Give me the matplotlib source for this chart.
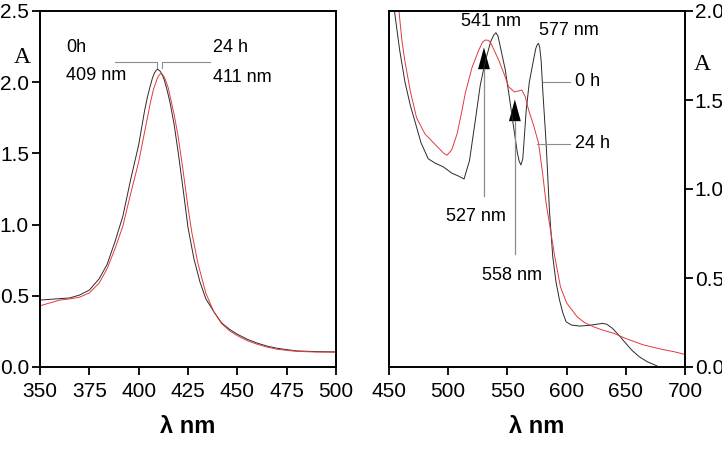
import numpy as np
import matplotlib
matplotlib.use('Agg')
import matplotlib.pyplot as plt

plt.rcParams['font.family'] = ['Liberation Sans', 'DejaVu Sans']

# Soret band (left panel), wavelength in nm and absorbance
wl_soret_0h = [350, 355, 360, 365, 370, 375, 380, 384, 388, 392, 396, 400, 403, 404.5,
               406, 407, 408, 409, 409.5, 410, 411, 412, 413, 414.5, 416, 418, 420,
               422.5, 425, 428, 431, 434, 438, 442, 446, 450, 455, 460, 465, 470, 475,
               480, 490, 500]
abs_soret_0h = [0.47, 0.475, 0.48, 0.485, 0.505, 0.54, 0.62, 0.72, 0.88, 1.06, 1.32,
                1.56, 1.80, 1.90, 1.98, 2.03, 2.065, 2.085, 2.09, 2.088, 2.075, 2.05,
                2.015, 1.94, 1.85, 1.70, 1.51, 1.25, 0.98, 0.76, 0.60, 0.48, 0.39, 0.31,
                0.265, 0.23, 0.195, 0.168, 0.147, 0.132, 0.122, 0.113, 0.108, 0.106]
wl_soret_24h = [350, 355, 360, 365, 370, 375, 380, 384, 388, 392, 396, 400, 403, 406,
                407.5, 408.5, 409.5, 410.5, 411.2, 412, 413, 414, 415, 418, 420, 422.5,
                425, 427, 430, 434, 438, 442, 446, 450, 455, 460, 465, 470, 475, 480,
                490, 500]
abs_soret_24h = [0.43, 0.45, 0.47, 0.478, 0.49, 0.52, 0.59, 0.69, 0.83, 0.99, 1.22,
                 1.44, 1.65, 1.86, 1.95, 1.99, 2.03, 2.052, 2.06, 2.055, 2.035, 2.0,
                 1.96, 1.77, 1.62, 1.38, 1.12, 0.94, 0.73, 0.52, 0.39, 0.305, 0.255,
                 0.22, 0.185, 0.16, 0.14, 0.125, 0.117, 0.11, 0.105, 0.104]

# Q bands (right panel)
wl_q_0h = [454, 455, 459, 463.5, 468, 471.9, 477, 483.1, 489, 495.7, 503.3, 508, 513.4,
           518, 523, 527, 531.4, 536, 538.5, 540.3, 542, 544, 548.2, 552, 555.2, 558.5,
           560, 561.4, 563, 565.9, 568.5, 571.5, 574, 575.3, 576.3, 577.3, 578.5, 580,
           582.7, 585.5, 588.3, 591, 594, 597, 599.6, 604, 610.8, 615, 620, 625, 630.4,
           634, 638.8, 644, 650, 655, 661.3, 668, 676.7]
abs_q_0h = [2.06, 1.98, 1.78, 1.60, 1.47, 1.38, 1.26, 1.17, 1.145, 1.125, 1.088, 1.075,
            1.056, 1.16, 1.39, 1.58, 1.72, 1.83, 1.865, 1.878, 1.86, 1.80, 1.67, 1.50,
            1.35, 1.20, 1.155, 1.135, 1.17, 1.444, 1.60, 1.706, 1.79, 1.812, 1.818,
            1.795, 1.72, 1.54, 1.257, 0.88, 0.62, 0.48, 0.376, 0.30, 0.254, 0.236, 0.23,
            0.232, 0.235, 0.24, 0.245, 0.24, 0.217, 0.18, 0.133, 0.095, 0.058, 0.03,
            0.005]
wl_q_24h = [457, 458.4, 461, 463.5, 468, 473.3, 480.3, 489, 496.3, 499, 503, 507.5, 511,
            514.5, 520, 525.8, 529, 531.4, 534, 536, 542.6, 547, 551, 556, 562.2, 565,
            567.9, 572, 576.3, 579.5, 582.7, 586.4, 590, 594.8, 600, 608.8, 615, 622.8,
            630, 639.6, 650, 664.9, 680, 690, 698.6, 700]
abs_q_24h = [2.05, 2.0, 1.83, 1.715, 1.55, 1.40, 1.31, 1.25, 1.20, 1.19, 1.22, 1.31,
             1.42, 1.54, 1.68, 1.78, 1.825, 1.837, 1.835, 1.82, 1.725, 1.65, 1.575,
             1.545, 1.556, 1.52, 1.444, 1.36, 1.258, 1.10, 0.92, 0.77, 0.62, 0.451, 0.36,
             0.283, 0.25, 0.226, 0.208, 0.19, 0.16, 0.124, 0.10, 0.087, 0.073, 0.07]

# annotated peak arrows in the right panel: wavelength, tip, base, line bottom
arrow_x = [530.2, 556.3]
arrow_tip = [1.796, 1.503]
arrow_base = [1.673, 1.381]
arrow_bottom = [0.963, 0.635]

c0 = '#2a2a2a'
c24 = '#e23a3a'
cg = '#8c8c8c'

fig = plt.figure(figsize=(7.22, 4.55), dpi=100)
ax1 = fig.add_axes([40/722, 88/455, 296/722, 356/455])
ax2 = fig.add_axes([389/722, 88/455, 296/722, 356/455])

# left panel
ax1.plot(wl_soret_0h, abs_soret_0h, color=c0, lw=0.7)
ax1.plot(wl_soret_24h, abs_soret_24h, color=c24, lw=0.7)
ax1.set_xlim(350, 500)
ax1.set_ylim(0, 2.5)
ax1.set_xticks(np.arange(350, 501, 25))
ax1.set_yticks(np.arange(0, 2.51, 0.5))
ax1.yaxis.set_major_formatter(matplotlib.ticker.FormatStrFormatter('%.1f'))
ax1.tick_params(direction='out', length=6, width=1.3, labelsize=15, pad=2)
ax1.tick_params(axis='x', pad=5)
ax1.set_xlabel('λ nm', fontsize=17, fontweight='bold', labelpad=10)
ax1.text(-0.06, 0.87, 'A', transform=ax1.transAxes, ha='center', va='center',
         fontsize=17, family='Liberation Serif')
# peak markers
ax1.plot([388, 409.5, 409.5], [2.14, 2.14, 2.10], color=cg, lw=0.8)
ax1.plot([436.2, 412, 412], [2.14, 2.14, 2.10], color=cg, lw=0.8)
ax1.text(363.2, 2.245, '0h', fontsize=13, va='center')
ax1.text(363.2, 2.05, '409 nm', fontsize=13, va='center')
ax1.text(437.7, 2.245, '24 h', fontsize=13, va='center')
ax1.text(437.7, 2.03, '411 nm', fontsize=13, va='center')

# right panel
ax2.plot(wl_q_0h, abs_q_0h, color=c0, lw=0.7)
ax2.plot(wl_q_24h, abs_q_24h, color=c24, lw=0.7)
ax2.set_xlim(450, 700)
ax2.set_ylim(0, 2.0)
ax2.set_xticks(np.arange(450, 701, 50))
ax2.set_yticks(np.arange(0, 2.01, 0.5))
ax2.yaxis.set_major_formatter(matplotlib.ticker.FormatStrFormatter('%.1f'))
ax2.yaxis.tick_right()
ax2.tick_params(direction='out', length=6, width=1.3, labelsize=15, pad=1)
ax2.tick_params(axis='x', pad=5)
ax2.set_xlabel('λ nm', fontsize=17, fontweight='bold', labelpad=10)
ax2.text(1.06, 0.85, 'A', transform=ax2.transAxes, ha='center', va='center',
         fontsize=17, family='Liberation Serif')
for x, tip, base, bot in zip(arrow_x, arrow_tip, arrow_base, arrow_bottom):
    ax2.plot([x, x], [bot, base], color=cg, lw=0.9)
    ax2.fill([x - 5, x + 5, x], [base, base, tip], color='black', lw=0)
ax2.text(510.6, 1.943, '541 nm', fontsize=13, va='center')
ax2.text(576.3, 1.892, '577 nm', fontsize=13, va='center')
ax2.plot([580.2, 603.2], [1.603, 1.603], color=cg, lw=0.8)
ax2.plot([575.2, 603.2], [1.255, 1.255], color=cg, lw=0.8)
ax2.text(607.4, 1.603, '0 h', fontsize=13, va='center')
ax2.text(607.4, 1.258, '24 h', fontsize=13, va='center')
ax2.text(498, 0.844, '527 nm', fontsize=13, va='center')
ax2.text(528.9, 0.512, '558 nm', fontsize=13, va='center')

for ax in (ax1, ax2):
    for s in ax.spines.values():
        s.set_linewidth(1.4)

fig.savefig('out.png', dpi=100)
